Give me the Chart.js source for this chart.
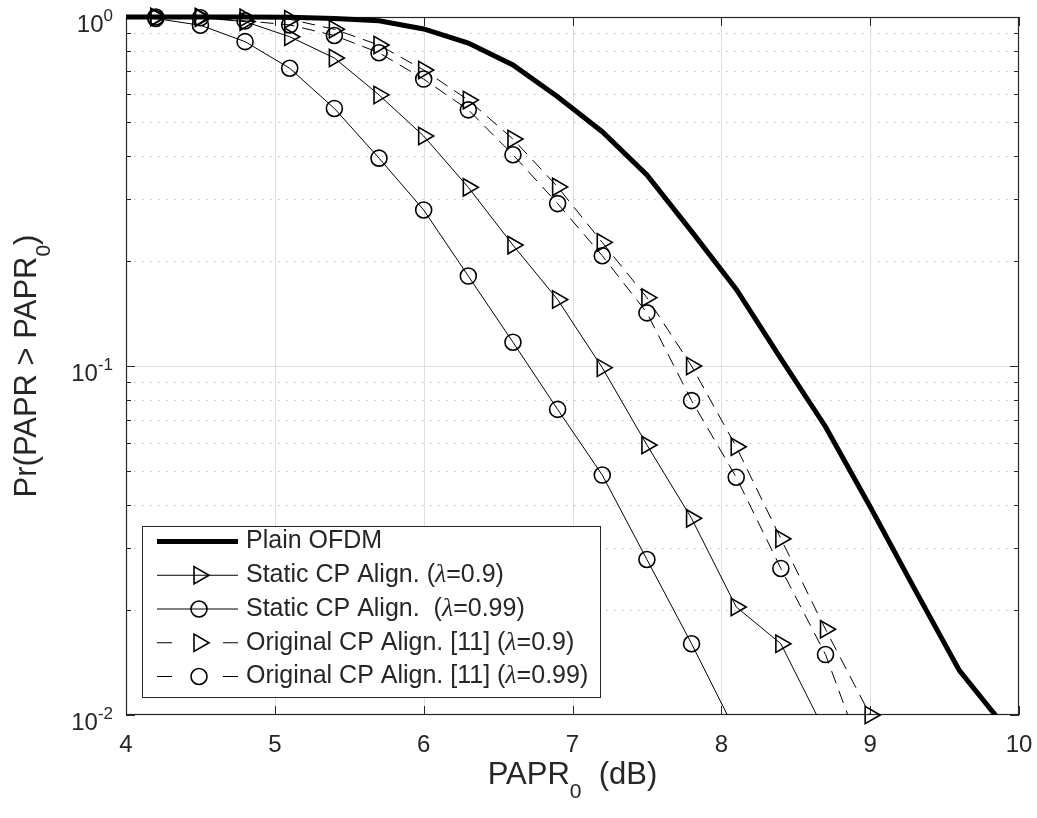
<!DOCTYPE html>
<html><head><meta charset="utf-8">
<script src="https://cdn.jsdelivr.net/npm/chart.js@4.4.1/dist/chart.umd.min.js"></script>
<style>html,body{margin:0;padding:0;background:#fff}canvas{display:block}</style>
</head><body>
<canvas id="c" width="1037" height="818" style="width:1037px;height:818px"></canvas>
<script>
// ---- data ----
const xPlain   = [3.9,4.2,4.5,4.8,5.1,5.4,5.7,6.0,6.3,6.6,6.9,7.2,7.5,7.8,8.1,8.4,8.7,9.0,9.3,9.6,9.9];
const yPlain   = [1.0,1.0,1.0,1.0,0.998,0.99,0.975,0.924,0.842,0.729,0.591,0.469,0.353,0.243,0.166,0.105,0.067,0.0395,0.0229,0.0134,0.0093];
const xStatic90 = [4.2,4.5,4.8,5.1,5.4,5.7,6.0,6.3,6.6,6.9,7.2,7.5,7.8,8.1,8.4,8.7];
const yStatic90 = [1.0,0.995,0.97,0.878,0.763,0.598,0.456,0.325,0.222,0.155,0.0989,0.0594,0.0366,0.0204,0.016,0.0089];
const xStatic99 = [4.2,4.5,4.8,5.1,5.4,5.7,6.0,6.3,6.6,6.9,7.2,7.5,7.8,8.1];
const yStatic99 = [0.99,0.947,0.85,0.713,0.547,0.394,0.280,0.181,0.117,0.0751,0.0487,0.0279,0.016,0.0089];
const xOrig90 = [4.2,4.5,4.8,5.1,5.4,5.7,6.0,6.3,6.6,6.9,7.2,7.5,7.8,8.1,8.4,8.7,9.0];
const yOrig90 = [1.0,1.0,0.995,0.985,0.922,0.831,0.705,0.578,0.447,0.326,0.226,0.157,0.100,0.0587,0.032,0.0176,0.01];
const xOrig99 = [4.2,4.5,4.8,5.1,5.4,5.7,6.0,6.3,6.6,6.9,7.2,7.5,7.8,8.1,8.4,8.7,9.0];
const yOrig99 = [1.0,0.995,0.975,0.949,0.885,0.79,0.664,0.542,0.403,0.292,0.207,0.142,0.0796,0.048,0.0263,0.0149,0.0067];

const seriesLabels = [
  ['Plain OFDM'],
  ['Static CP Align. (', 'λ', '=0.9)'],
  ['Static CP Align.  (', 'λ', '=0.99)'],
  ['Original CP Align. [11] (', 'λ', '=0.9)'],
  ['Original CP Align. [11] (', 'λ', '=0.99)']
];
const xTickValues = [4,5,6,7,8,9,10];
const xTickLabels = ['4','5','6','7','8','9','10'];
const yTickValues = [1,0.1,0.01];
const yTickExponents = ['0','-1','-2'];

const FONT = '"Liberation Sans", Arial, Helvetica, sans-serif';
const SERIF = '"Liberation Serif", "DejaVu Serif", serif';
const TXT = '#262626';

function pts(xs, ys){ return xs.map((x,i)=>({x:x, y:ys[i]})); }

const clipBox = {left:0,top:false,right:0,bottom:0};
const datasets = [
  { label: 'Plain OFDM', data: pts(xPlain,yPlain), borderColor:'#000', borderWidth:5, pointRadius:0, clip:clipBox },
  { label: 'Static CP Align. (λ=0.9)', data: pts(xStatic90,yStatic90), borderColor:'#000', borderWidth:1,
    pointStyle:'triangle', pointRotation:90, pointRadius:10, pointBorderWidth:1.6,
    pointBorderColor:'#000', pointBackgroundColor:'rgba(0,0,0,0)', clip:clipBox },
  { label: 'Static CP Align.  (λ=0.99)', data: pts(xStatic99,yStatic99), borderColor:'#000', borderWidth:1,
    pointStyle:'circle', pointRadius:8, pointBorderWidth:1.6,
    pointBorderColor:'#000', pointBackgroundColor:'rgba(0,0,0,0)', clip:clipBox },
  { label: 'Original CP Align. [11] (λ=0.9)', data: pts(xOrig90,yOrig90), borderColor:'#000', borderWidth:1, borderDash:[13,8],
    pointStyle:'triangle', pointRotation:90, pointRadius:10, pointBorderWidth:1.6,
    pointBorderColor:'#000', pointBackgroundColor:'rgba(0,0,0,0)', clip:false },
  { label: 'Original CP Align. [11] (λ=0.99)', data: pts(xOrig99,yOrig99), borderColor:'#000', borderWidth:1, borderDash:[13,8],
    pointStyle:'circle', pointRadius:8, pointBorderWidth:1.6,
    pointBorderColor:'#000', pointBackgroundColor:'rgba(0,0,0,0)', clip:clipBox }
];

function line(ctx,x1,y1,x2,y2){ ctx.beginPath(); ctx.moveTo(x1,y1); ctx.lineTo(x2,y2); ctx.stroke(); }
function runsWidth(ctx, runs){ let w=0; for(const r of runs){ ctx.font=r.font; w+=ctx.measureText(r.text).width; } return w; }
function drawRuns(ctx, runs, x, y){
  for(const r of runs){ ctx.font=r.font; ctx.fillText(r.text, x, y+(r.dy||0)); x+=ctx.measureText(r.text).width; }
}

const axesPlugin = {
  id:'axesPlugin',
  beforeDatasetsDraw(chart){
    const {ctx, chartArea:a, scales:{x,y}} = chart;
    ctx.save();
    const L=a.left, R=a.right, T=a.top, B=a.bottom;
    ctx.strokeStyle='#bdbdbd'; ctx.lineWidth=1; ctx.setLineDash([1.5,6.5]);
    for(const dec of [0.01,0.1]){
      for(let k=2;k<=9;k++){
        const py=Math.round(y.getPixelForValue(k*dec))+0.5;
        line(ctx,L,py,R,py);
      }
    }
    ctx.setLineDash([]);
    ctx.strokeStyle='#dedede'; ctx.lineWidth=1;
    for(const v of xTickValues){
      if(v===4||v===10) continue;
      const px=Math.round(x.getPixelForValue(v))+0.5;
      line(ctx,px,T,px,B);
    }
    for(const v of yTickValues){
      if(v===1||v===0.01) continue;
      const py=Math.round(y.getPixelForValue(v))+0.5;
      line(ctx,L,py,R,py);
    }
    ctx.strokeStyle=TXT; ctx.lineWidth=1.2;
    ctx.strokeRect(L+0.5,T+0.5,R-L-1,B-T-1);
    ctx.lineWidth=1;
    for(const v of xTickValues){
      const px=Math.round(x.getPixelForValue(v))+0.5;
      line(ctx,px,B,px,B-9); line(ctx,px,T,px,T+9);
    }
    for(const dec of [0.01,0.1]){
      for(let k=1;k<=10;k++){
        const py=Math.round(y.getPixelForValue(k*dec))+0.5;
        const len=(k===1||k===10)?9:5;
        line(ctx,L,py,L+len,py); line(ctx,R,py,R-len,py);
      }
    }
    ctx.restore();
  },
  afterDraw(chart){
    const {ctx, chartArea:a, scales:{x,y}} = chart;
    ctx.save();
    ctx.fillStyle=TXT;
    ctx.textAlign='center'; ctx.textBaseline='middle'; ctx.font='24px '+FONT;
    xTickValues.forEach((v,i)=>{ ctx.fillText(xTickLabels[i], x.getPixelForValue(v), a.bottom+30); });
    ctx.textAlign='left';
    yTickValues.forEach((v,i)=>{
      const py=y.getPixelForValue(v);
      const runs=[{text:'10',font:'24px '+FONT,dy:8},{text:yTickExponents[i],font:'17px '+FONT,dy:-1}];
      const w=runsWidth(ctx,runs);
      drawRuns(ctx,runs,113-w,py);
    });
    ctx.textBaseline='alphabetic';
    const xr=[{text:'PAPR',font:'31px '+FONT,dy:0},{text:'0',font:'21px '+FONT,dy:14},{text:'  (dB)',font:'31px '+FONT,dy:0}];
    const xw=runsWidth(ctx,xr);
    drawRuns(ctx,xr,(a.left+a.right)/2-xw/2,784);
    ctx.save();
    ctx.translate(36,(a.top+a.bottom)/2);
    ctx.rotate(-Math.PI/2);
    const yr=[{text:'Pr(PAPR > PAPR',font:'31px '+FONT,dy:0},{text:'0',font:'21px '+FONT,dy:14},{text:')',font:'31px '+FONT,dy:0}];
    const yw=runsWidth(ctx,yr);
    drawRuns(ctx,yr,-yw/2,0);
    ctx.restore();
    // legend
    const bx=142.5, by=526.5, bw=458, bh=171;
    ctx.fillStyle='#fff'; ctx.fillRect(bx,by,bw,bh);
    ctx.strokeStyle=TXT; ctx.lineWidth=1; ctx.strokeRect(bx,by,bw,bh);
    const ds=chart.data.datasets;
    ds.forEach((d,i)=>{
      const yc=541.5+33.75*i;
      const x1=157, x2=238, xm=199;
      ctx.save();
      ctx.strokeStyle=d.borderColor; ctx.lineWidth=d.borderWidth;
      if(d.borderDash){ ctx.setLineDash([15,51]); }
      line(ctx,x1,yc,x2,yc);
      ctx.restore();
      if(d.pointRadius>0){
        ctx.save();
        ctx.strokeStyle=d.pointBorderColor; ctx.lineWidth=d.pointBorderWidth; ctx.fillStyle='rgba(0,0,0,0)';
        Chart.helpers.drawPoint(ctx,{pointStyle:d.pointStyle,rotation:d.pointRotation||0,radius:d.pointRadius,borderWidth:d.pointBorderWidth},xm,yc);
        ctx.restore();
      }
      ctx.fillStyle=TXT; ctx.textBaseline='middle';
      const runs=seriesLabels[i].map(t=>({text:t,font:(t==='λ'?'italic 26px '+SERIF:'25px '+FONT),dy:0}));
      drawRuns(ctx,runs,246,yc);
    });
    ctx.restore();
  }
};

new Chart(document.getElementById('c'), {
  type:'line',
  data:{datasets:datasets},
  options:{
    responsive:false, animation:false, devicePixelRatio:1,
    layout:{padding:{left:126,top:17,right:18,bottom:103}},
    plugins:{legend:{display:false},tooltip:{enabled:false}},
    scales:{
      x:{type:'linear',min:4,max:10,display:false},
      y:{type:'logarithmic',min:0.01,max:1,display:false}
    }
  },
  plugins:[axesPlugin]
});
</script>
</body></html>
